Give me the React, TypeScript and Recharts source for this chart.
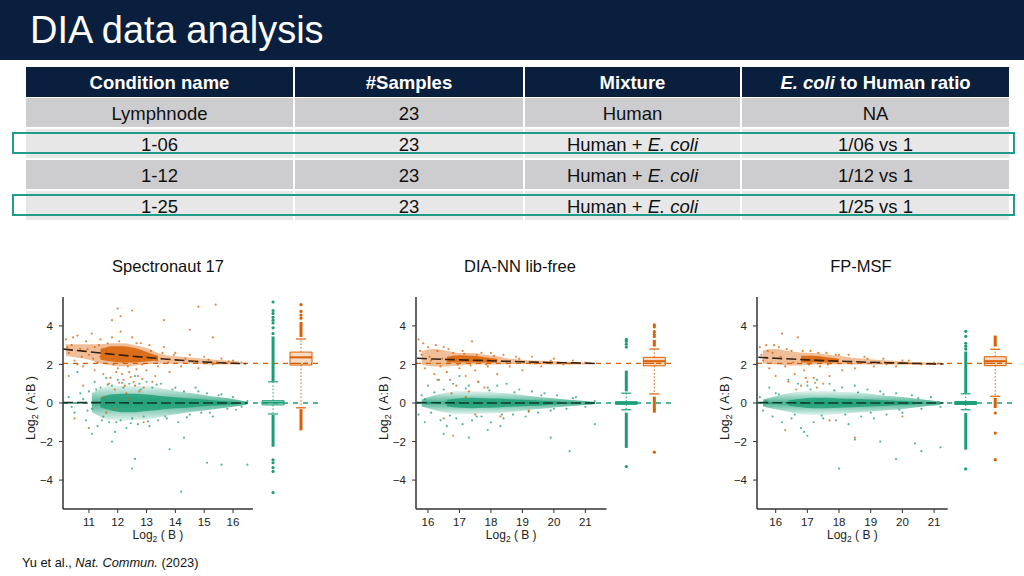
import React from "react";
import {
  ComposedChart,
  Scatter,
  Area,
  Line,
  XAxis,
  YAxis,
  ReferenceLine,
  ReferenceArea,
} from "recharts";

const FONT = "'Liberation Sans', Arial, Helvetica, sans-serif";
const NAVY = "#0a1f3d";
const ORANGE = "#d95f02";
const GREEN = "#1b9e77";
const TEAL = "#1f9c8a";
const AXIS = "#333333";

/* ---------------- table data ---------------- */
const TABLE_HEADERS = ["Condition name", "#Samples", "Mixture", "E. coli to Human ratio"];
const CONDITION_NAMES = ["Lymphnode", "1-06", "1-12", "1-25"];
const SAMPLE_COUNTS = ["23", "23", "23", "23"];
const MIXTURES = ["Human", "Human + E. coli", "Human + E. coli", "Human + E. coli"];
const RATIOS = ["NA", "1/06 vs 1", "1/12 vs 1", "1/25 vs 1"];
const HIGHLIGHTED_ROWS = [1, 3];

/* ---------------- chart data ---------------- */
type Pt = [number, number];
type Band = [number, number, number, number | null, number | null][];
type Box = { q1: number; med: number; q3: number; lo: number; hi: number };

const EXPECTED_RATIO = 2.06;
const Y_TICKS = [-4, -2, 0, 2, 4];

// ---- Spectronaut 17
const S17_X_TICKS = [11, 12, 13, 14, 15, 16];
const S17_ORANGE_PTS: Pt[] = [
  [10.2, 3.3], [10.3, 2.6], [10.4, 3.0], [10.5, 2.2], [10.6, 3.5], [10.7, 2.8], [10.8, 1.9], [10.9, 3.2],
  [11.0, 2.5], [11.1, 3.6], [11.2, 2.9], [11.3, 2.1], [11.4, 3.3], [11.5, 1.5], [11.6, 2.7], [11.7, 1.0],
  [11.8, 3.4], [11.9, 0.7], [12.0, 1.8], [12.1, 3.7], [12.2, 1.2], [12.3, 0.5], [12.4, 1.6], [12.5, 3.4],
  [12.6, 0.9], [12.7, 1.4], [12.8, 3.1], [12.9, 0.8], [13.0, 1.7], [13.1, 3.0], [13.2, 1.1], [13.4, 1.9],
  [13.6, 2.9], [13.8, 1.6], [14.0, 2.6], [14.2, 1.9], [14.5, 2.5], [14.8, 1.8], [15.0, 2.4], [15.3, 2.0],
  [15.6, 2.3], [16.0, 2.2], [16.3, 2.1], [11.8, 4.3], [12.0, 4.9], [12.1, 4.5], [12.5, 4.8], [13.6, 4.3],
  [14.8, 5.0], [15.4, 5.1], [14.5, 3.8], [15.3, 3.4], [11.0, -1.3], [11.6, -0.5], [12.9, -1.0], [10.5, -0.8],
  [12.4, 0.2], [11.9, -0.3], [10.3, 1.4], [10.8, 0.9], [11.2, 1.7], [11.5, 0.3], [12.2, 2.1], [11.4, 2.4],
  [10.6, 2.0], [10.25, 2.9], [10.45, 3.4], [10.75, 2.4], [10.95, 2.8], [11.15, 2.3], [11.35, 3.0],
  [11.65, 3.1], [11.85, 2.0], [12.05, 3.2], [12.35, 1.9], [12.65, 3.1], [12.85, 2.0], [13.15, 2.7],
  [13.35, 2.2], [13.55, 2.6], [13.75, 2.1], [13.95, 2.5], [14.35, 2.3], [14.65, 2.15], [15.15, 2.25],
  [15.45, 2.1], [15.85, 2.15], [12.15, 1.5], [12.55, 1.1], [12.75, 0.6], [11.75, 1.3], [13.3, 1.4],
  [12.45, 1.35], [12.25, 0.9], [12.05, 1.05], [12.65, 1.75], [11.95, 1.6], [12.85, 1.25],
];
const S17_GREEN_PTS: Pt[] = [
  [10.3, 0.3], [10.5, -0.5], [10.6, 1.6], [10.8, 0.2], [10.9, -0.9], [11.0, 0.6], [11.1, -0.3], [11.2, 1.1],
  [11.3, -1.2], [11.4, 0.8], [11.5, -0.7], [11.6, 1.3], [11.7, -1.0], [11.8, 0.9], [11.9, -1.5], [12.0, 1.2],
  [12.1, -0.9], [12.2, 0.8], [12.3, -1.3], [12.4, 1.0], [12.5, -0.8], [12.6, 1.4], [12.7, -1.1], [12.8, 0.7],
  [12.9, -0.7], [13.0, 1.1], [13.1, -1.2], [13.2, 0.8], [13.4, -0.9], [13.5, 1.0], [13.7, -0.8], [13.9, 0.7],
  [14.1, -1.0], [14.3, 0.6], [14.5, -0.6], [14.7, 0.8], [14.9, -0.5], [15.1, 0.5], [15.3, -0.7], [15.5, 0.4],
  [15.8, -0.3], [16.0, 0.3], [16.3, -0.2], [16.5, 0.1], [11.8, -2.0], [12.6, -2.9], [12.5, -3.4], [14.2, -4.6],
  [15.1, -3.1], [15.6, -3.2], [16.5, -3.2], [13.8, -2.4], [14.3, -1.8], [11.1, -1.6],
  [11.25, 0.7], [11.45, -0.9], [11.65, 0.95], [11.95, -1.0], [12.15, 1.05], [12.45, -1.05], [12.75, 1.0],
  [13.05, -0.95], [13.35, 0.95], [13.65, -0.7], [14.0, 0.8], [14.4, -0.75], [14.8, 0.6], [15.2, -0.5],
  [15.6, 0.45], [16.1, -0.35], [10.4, -0.2], [10.7, 0.5], [10.95, -0.4],
];
const S17_GREEN_BAND: Band = [
  [11.1, -0.45, 0.5, null, null], [11.4, -0.72, 0.75, -0.22, 0.28], [11.8, -0.88, 0.9, -0.4, 0.45],
  [12.2, -0.92, 0.9, -0.48, 0.48], [12.6, -0.9, 0.9, -0.48, 0.48], [13.0, -0.85, 0.88, -0.42, 0.44],
  [13.4, -0.75, 0.8, -0.36, 0.38], [13.8, -0.64, 0.68, -0.3, 0.32], [14.2, -0.55, 0.58, -0.26, 0.27],
  [14.6, -0.46, 0.5, -0.22, 0.23], [15.0, -0.39, 0.42, -0.17, 0.18], [15.4, -0.31, 0.33, -0.13, 0.13],
  [15.8, -0.23, 0.26, -0.09, 0.09], [16.2, -0.15, 0.16, -0.05, 0.05], [16.5, -0.06, 0.06, null, null],
];
const S17_ORANGE_BAND: Band = [
  [10.2, 2.45, 3.05, null, null], [10.6, 2.35, 3.05, null, null], [11.0, 2.25, 3.05, null, null],
  [11.4, 2.05, 3.05, 2.25, 2.8], [11.8, 1.95, 3.1, 2.15, 2.95], [12.2, 1.9, 3.1, 2.1, 2.95],
  [12.6, 1.95, 3.0, 2.1, 2.85], [13.0, 2.0, 2.85, 2.15, 2.65], [13.4, 2.05, 2.6, 2.2, 2.45],
  [13.8, 2.05, 2.45, null, null], [14.2, 2.05, 2.4, null, null], [14.6, 2.05, 2.35, null, null],
  [15.0, 2.0, 2.3, null, null], [15.4, 2.0, 2.25, null, null], [15.8, 2.0, 2.2, null, null],
  [16.2, 2.0, 2.15, null, null],
];
const S17_ORANGE_TREND: Pt[] = [
  [10.1, 2.8], [10.6, 2.72], [11.0, 2.66], [11.5, 2.58], [12.0, 2.5], [12.5, 2.43], [13.0, 2.36],
  [13.5, 2.3], [14.0, 2.24], [14.5, 2.18], [15.0, 2.13], [15.5, 2.09], [16.0, 2.06], [16.45, 2.04],
];
const S17_GREEN_TREND: Pt[] = [[10.1, 0.02], [11.0, 0.02], [12.0, 0.01], [13.0, 0], [14.0, 0], [15.0, 0], [16.0, 0], [16.5, 0]];
const S17_GREEN_BOX: Box = { q1: -0.1, med: 0.02, q3: 0.12, lo: -0.57, hi: 1.1 };
const S17_ORANGE_BOX: Box = { q1: 1.97, med: 2.37, q3: 2.64, lo: -0.25, hi: 3.32 };
const S17_GREEN_RUNS: Pt[] = [[1.14, 3.45], [-0.62, -2.27]];
const S17_GREEN_DOTS = [3.6, 3.9, 4.15, 4.3, 4.45, 4.65, 4.8, 5.24, -2.95, -3.1, -3.35, -3.55, -4.65];
const S17_ORANGE_RUNS: Pt[] = [[3.42, 4.2], [-0.32, -1.42]];
const S17_ORANGE_DOTS = [4.4, 4.56, 4.75, 5.1];

// ---- DIA-NN lib-free
const DN_X_TICKS = [16, 17, 18, 19, 20, 21];
const DN_ORANGE_PTS: Pt[] = [
  [15.7, 3.3], [15.8, 2.5], [15.9, 1.8], [16.0, 2.9], [16.1, 2.2], [16.2, 1.5], [16.3, 2.7], [16.4, 1.9],
  [16.5, 2.9], [16.6, 1.6], [16.7, 1.2], [16.8, 2.6], [16.9, 0.9], [17.0, 1.8], [17.1, 2.7], [17.2, 1.4],
  [17.3, 0.6], [17.4, 3.2], [17.5, 1.7], [17.6, 1.1], [17.7, 2.6], [17.8, 0.8], [17.9, 1.9], [18.0, 2.6],
  [18.2, 1.5], [18.4, 2.5], [18.6, 1.9], [18.8, 2.4], [19.0, 1.7], [19.3, 2.4], [19.6, 1.9], [20.0, 2.3],
  [20.3, 2.0], [20.6, 2.2], [21.0, 2.1], [16.5, -0.8], [17.5, -0.6], [18.3, -0.7], [19.2, -0.4],
  [16.8, -1.7], [17.2, 0.3], [15.75, 2.7], [15.85, 3.1], [16.05, 2.4], [16.25, 3.0], [16.45, 2.3],
  [16.65, 2.8], [16.95, 2.0], [17.15, 2.55], [17.35, 1.95], [17.55, 2.5], [17.85, 2.0], [18.1, 2.45],
  [18.5, 2.05], [18.9, 2.3], [19.4, 2.05], [19.9, 2.2], [20.5, 2.05], [16.35, 1.2], [16.75, 0.5],
];
const DN_GREEN_PTS: Pt[] = [
  [15.7, -0.6], [15.8, 0.4], [15.9, -1.0], [16.0, 0.9], [16.1, -0.5], [16.3, 1.2], [16.4, -0.9], [16.5, 0.7],
  [16.6, -1.2], [16.8, 1.0], [16.9, -0.8], [17.0, 1.4], [17.1, -1.1], [17.3, 0.9], [17.4, -0.9], [17.6, 1.1],
  [17.7, -0.7], [17.9, 0.8], [18.0, -1.0], [18.2, 0.9], [18.4, -0.8], [18.5, 1.0], [18.7, -0.6], [18.9, 0.7],
  [19.1, -0.7], [19.3, 0.6], [19.5, -0.5], [19.7, 0.5], [19.9, -0.4], [20.1, 0.4], [20.4, -0.3], [20.7, 0.3],
  [21.0, -0.2], [21.3, 0.1], [16.5, -1.6], [17.9, -1.4], [18.3, -1.2], [19.9, -1.8], [20.5, -2.5],
  [21.3, -1.1], [17.3, -1.8], [16.2, 0.55], [16.7, -0.65], [17.2, 0.75], [17.55, -0.7], [17.95, 0.65],
  [18.35, -0.6], [18.75, 0.55], [19.2, -0.45], [19.6, 0.4], [20.0, -0.3], [20.6, 0.25], [15.9, 0.2],
];
const DN_GREEN_BAND: Band = [
  [15.8, -0.18, 0.18, null, null], [16.2, -0.36, 0.4, null, null], [16.6, -0.5, 0.55, -0.17, 0.17],
  [17.0, -0.58, 0.62, -0.25, 0.25], [17.4, -0.58, 0.62, -0.27, 0.27], [17.8, -0.55, 0.58, -0.25, 0.25],
  [18.2, -0.52, 0.54, -0.23, 0.23], [18.6, -0.47, 0.49, -0.2, 0.2], [19.0, -0.4, 0.42, -0.17, 0.17],
  [19.4, -0.33, 0.34, -0.14, 0.14], [19.8, -0.27, 0.27, -0.1, 0.1], [20.2, -0.21, 0.21, -0.07, 0.07],
  [20.6, -0.16, 0.16, null, null], [21.0, -0.11, 0.11, null, null], [21.3, -0.06, 0.06, null, null],
];
const DN_ORANGE_BAND: Band = [
  [15.8, 2.0, 2.7, null, null], [16.2, 1.9, 2.8, null, null], [16.6, 1.9, 2.7, 2.1, 2.4],
  [17.0, 1.95, 2.6, 2.1, 2.48], [17.4, 2.0, 2.6, 2.1, 2.45], [17.8, 2.0, 2.5, 2.1, 2.38],
  [18.2, 2.0, 2.42, 2.1, 2.3], [18.6, 2.02, 2.3, null, null], [19.0, 2.02, 2.25, null, null],
  [19.4, 2.0, 2.2, null, null], [19.8, 2.0, 2.18, null, null], [20.2, 2.0, 2.15, null, null],
  [20.6, 2.0, 2.12, null, null], [21.0, 2.0, 2.1, null, null],
];
const DN_ORANGE_TREND: Pt[] = [
  [15.65, 2.32], [16.2, 2.28], [16.6, 2.26], [17.0, 2.24], [17.4, 2.22], [17.8, 2.2], [18.2, 2.18],
  [18.6, 2.16], [19.0, 2.14], [19.4, 2.12], [19.8, 2.1], [20.2, 2.09], [20.6, 2.08], [21.0, 2.07], [21.35, 2.05],
];
const DN_GREEN_TREND: Pt[] = [[15.65, 0.02], [16.5, 0.01], [17.5, 0], [18.5, 0], [19.5, 0], [20.5, 0], [21.35, 0]];
const DN_GREEN_BOX: Box = { q1: -0.07, med: 0, q3: 0.07, lo: -0.35, hi: 0.51 };
const DN_ORANGE_BOX: Box = { q1: 1.93, med: 2.17, q3: 2.37, lo: 0.47, hi: 2.8 };
const DN_GREEN_RUNS: Pt[] = [[0.6, 1.68], [-0.5, -2.33]];
const DN_GREEN_DOTS = [2.9, 3.05, 3.2, 3.3, -3.3];
const DN_ORANGE_RUNS: Pt[] = [[2.93, 3.27], [0.33, -0.5]];
const DN_ORANGE_DOTS = [3.45, 3.55, 3.7, 3.95, 4.05, -2.55];

// ---- FP-MSF
const FP_X_TICKS = [16, 17, 18, 19, 20, 21];
const FP_ORANGE_PTS: Pt[] = [
  [15.5, 2.9], [15.6, 2.2], [15.7, 3.0], [15.8, 1.8], [15.9, 2.6], [16.0, 1.4], [16.1, 2.9], [16.2, 3.6],
  [16.3, 1.9], [16.4, 1.1], [16.5, 2.7], [16.6, 1.5], [16.7, 3.4], [16.8, 0.9], [16.9, 1.7], [17.0, 1.1],
  [17.1, 2.7], [17.2, 1.3], [17.3, 0.8], [17.4, 1.9], [17.5, 1.0], [17.6, 2.6], [17.7, 1.4], [17.9, 2.5],
  [18.1, 1.7], [18.3, 2.5], [18.5, 1.8], [18.8, 2.4], [19.1, 1.9], [19.4, 2.3], [19.8, 1.9], [20.2, 2.2],
  [20.6, 2.0], [21.0, 2.1], [16.3, -1.4], [17.7, -0.9], [18.5, -1.8], [20.0, -0.7], [15.55, 2.5],
  [15.75, 2.7], [15.95, 3.0], [16.15, 2.4], [16.35, 2.8], [16.55, 2.1], [16.85, 2.7], [17.05, 2.0],
  [17.35, 2.6], [17.65, 2.0], [18.0, 2.5], [18.4, 2.05], [18.9, 2.3], [19.5, 2.0], [20.0, 2.2],
  [16.65, 0.7], [17.25, 1.05], [16.95, 1.3],
];
const FP_GREEN_PTS: Pt[] = [
  [15.5, 0.3], [15.6, -0.4], [15.8, 0.8], [15.9, -0.7], [16.0, 0.5], [16.2, -1.0], [16.4, 1.2], [16.5, -0.8],
  [16.7, 1.0], [16.8, -1.3], [17.0, 0.9], [17.2, -1.0], [17.3, 1.2], [17.5, -0.8], [17.7, 1.0], [17.9, -0.9],
  [18.1, 0.8], [18.3, -1.1], [18.5, 0.9], [18.7, -0.7], [18.9, 0.7], [19.1, -0.8], [19.3, 0.6], [19.5, -0.6],
  [19.8, 0.5], [20.0, -0.5], [20.3, 0.4], [20.6, -0.3], [20.9, 0.3], [21.2, -0.2], [16.9, -1.5], [17.0, -1.7],
  [18.0, -3.4], [18.5, -1.9], [19.3, -2.0], [20.4, -2.1], [20.6, -2.5], [21.2, -2.3], [19.8, -2.9],
  [16.1, 0.45], [16.6, -0.6], [17.1, 0.7], [17.45, -0.65], [17.85, 0.65], [18.2, -0.6], [18.6, 0.55],
  [19.0, -0.5], [19.4, 0.45], [19.9, -0.35], [20.5, 0.25], [15.7, 0.1],
];
const FP_GREEN_BAND: Band = [
  [15.6, -0.18, 0.18, null, null], [16.0, -0.33, 0.35, null, null], [16.4, -0.45, 0.5, -0.13, 0.13],
  [16.8, -0.58, 0.6, -0.22, 0.22], [17.2, -0.62, 0.62, -0.27, 0.27], [17.6, -0.62, 0.62, -0.27, 0.27],
  [18.0, -0.57, 0.58, -0.24, 0.24], [18.4, -0.52, 0.56, -0.22, 0.22], [18.8, -0.47, 0.52, -0.2, 0.2],
  [19.2, -0.42, 0.43, -0.17, 0.17], [19.6, -0.36, 0.36, -0.13, 0.13], [20.0, -0.31, 0.31, -0.1, 0.1],
  [20.4, -0.23, 0.23, -0.06, 0.06], [20.8, -0.16, 0.16, null, null], [21.2, -0.09, 0.09, null, null],
];
const FP_ORANGE_BAND: Band = [
  [15.6, 2.05, 2.75, null, null], [16.0, 2.0, 2.8, null, null], [16.4, 1.95, 2.7, null, null],
  [16.8, 1.95, 2.62, 2.1, 2.45], [17.2, 2.0, 2.6, 2.1, 2.45], [17.6, 2.0, 2.52, 2.1, 2.38],
  [18.0, 2.0, 2.45, 2.1, 2.3], [18.4, 2.0, 2.35, null, null], [18.8, 2.0, 2.3, null, null],
  [19.2, 2.0, 2.25, null, null], [19.6, 2.0, 2.2, null, null], [20.0, 1.98, 2.15, null, null],
  [20.4, 1.98, 2.12, null, null], [20.8, 1.97, 2.1, null, null], [21.2, 1.97, 2.05, null, null],
];
const FP_ORANGE_TREND: Pt[] = [
  [15.45, 2.37], [16.0, 2.32], [16.5, 2.28], [17.0, 2.24], [17.5, 2.2], [18.0, 2.17], [18.5, 2.14],
  [19.0, 2.11], [19.5, 2.09], [20.0, 2.07], [20.5, 2.05], [21.0, 2.03], [21.3, 2.02],
];
const FP_GREEN_TREND: Pt[] = [[15.45, 0.02], [16.5, 0.01], [17.5, 0], [18.5, 0], [19.5, 0], [20.5, 0], [21.3, 0]];
const FP_GREEN_BOX: Box = { q1: -0.08, med: 0, q3: 0.08, lo: -0.35, hi: 0.48 };
const FP_ORANGE_BOX: Box = { q1: 1.94, med: 2.17, q3: 2.4, lo: 0.35, hi: 2.79 };
const FP_GREEN_RUNS: Pt[] = [[0.52, 2.67], [-0.52, -2.42]];
const FP_GREEN_DOTS = [2.8, 2.95, 3.1, 3.46, 3.72, -3.42];
const FP_ORANGE_RUNS: Pt[] = [[2.93, 3.5], [0.26, -0.26]];
const FP_ORANGE_DOTS = [-0.52, -1.56, -2.94];

/* ---------------- panel layout ---------------- */
type PanelCfg = {
  id: string;
  title: string;
  left: number;
  titleX: number;
  xmin: number;
  xmax: number;
  axisEnd: number;
  ticks: number[];
  greenX: number;
  orangeX: number;
  pxPerUnit: number;
  orangePts: Pt[];
  greenPts: Pt[];
  greenBand: Band;
  orangeBand: Band;
  orangeTrend: Pt[];
  greenTrend: Pt[];
  greenBox: Box;
  orangeBox: Box;
  greenRuns: Pt[];
  greenDots: number[];
  orangeRuns: Pt[];
  orangeDots: number[];
};

const PANELS: PanelCfg[] = [
  {
    id: "s17", title: "Spectronaut 17", left: 0, titleX: 168, xmin: 10.1, xmax: 18.95, axisEnd: 16.69, ticks: S17_X_TICKS,
    greenX: 17.39, orangeX: 18.36, pxPerUnit: 28.8,
    orangePts: S17_ORANGE_PTS, greenPts: S17_GREEN_PTS, greenBand: S17_GREEN_BAND, orangeBand: S17_ORANGE_BAND,
    orangeTrend: S17_ORANGE_TREND, greenTrend: S17_GREEN_TREND, greenBox: S17_GREEN_BOX, orangeBox: S17_ORANGE_BOX,
    greenRuns: S17_GREEN_RUNS, greenDots: S17_GREEN_DOTS, orangeRuns: S17_ORANGE_RUNS, orangeDots: S17_ORANGE_DOTS,
  },
  {
    id: "dn", title: "DIA-NN lib-free", left: 353, titleX: 520, xmin: 15.62, xmax: 23.72, axisEnd: 21.67, ticks: DN_X_TICKS,
    greenX: 22.3, orangeX: 23.19, pxPerUnit: 31.5,
    orangePts: DN_ORANGE_PTS, greenPts: DN_GREEN_PTS, greenBand: DN_GREEN_BAND, orangeBand: DN_ORANGE_BAND,
    orangeTrend: DN_ORANGE_TREND, greenTrend: DN_GREEN_TREND, greenBox: DN_GREEN_BOX, orangeBox: DN_ORANGE_BOX,
    greenRuns: DN_GREEN_RUNS, greenDots: DN_GREEN_DOTS, orangeRuns: DN_ORANGE_RUNS, orangeDots: DN_ORANGE_DOTS,
  },
  {
    id: "fp", title: "FP-MSF", left: 694, titleX: 861, xmin: 15.41, xmax: 23.46, axisEnd: 21.43, ticks: FP_X_TICKS,
    greenX: 22.0, orangeX: 22.93, pxPerUnit: 31.7,
    orangePts: FP_ORANGE_PTS, greenPts: FP_GREEN_PTS, greenBand: FP_GREEN_BAND, orangeBand: FP_ORANGE_BAND,
    orangeTrend: FP_ORANGE_TREND, greenTrend: FP_GREEN_TREND, greenBox: FP_GREEN_BOX, orangeBox: FP_ORANGE_BOX,
    greenRuns: FP_GREEN_RUNS, greenDots: FP_GREEN_DOTS, orangeRuns: FP_ORANGE_RUNS, orangeDots: FP_ORANGE_DOTS,
  },
];

function buildRows(c: PanelCfg) {
  const m = new Map<number, Record<string, any>>();
  const row = (x: number) => {
    let r = m.get(x);
    if (!r) {
      r = { x };
      m.set(x, r);
    }
    return r;
  };
  c.greenBand.forEach(([x, lo, hi, cl, ch]) => {
    const r = row(x);
    r.gOut = [lo, hi];
    if (cl != null && ch != null) r.gCore = [cl, ch];
  });
  c.orangeBand.forEach(([x, lo, hi, cl, ch]) => {
    const r = row(x);
    r.oOut = [lo, hi];
    if (cl != null && ch != null) r.oCore = [cl, ch];
  });
  c.greenTrend.forEach(([x, y]) => {
    row(x).gTrend = y;
  });
  c.orangeTrend.forEach(([x, y]) => {
    row(x).oTrend = y;
  });
  return Array.from(m.values()).sort((a, b) => a.x - b.x);
}

const dotShape = (color: string, r: number, op: number) => (p: any) =>
  p.cx == null ? <g /> : <circle cx={p.cx} cy={p.cy} r={r} fill={color} fillOpacity={op} />;

function renderBox(key: string, x: number, b: Box, runs: Pt[], dots: number[], color: string, fill: string, half: number, cap: number) {
  const els: React.ReactNode[] = [];
  els.push(
    <ReferenceLine key={key + "wu"} segment={[{ x, y: b.q3 }, { x, y: b.hi }]} stroke={color} strokeDasharray="1.5 2" strokeWidth={1} ifOverflow="visible" />,
    <ReferenceLine key={key + "wl"} segment={[{ x, y: b.q1 }, { x, y: b.lo }]} stroke={color} strokeDasharray="1.5 2" strokeWidth={1} ifOverflow="visible" />,
    <ReferenceLine key={key + "cu"} segment={[{ x: x - cap, y: b.hi }, { x: x + cap, y: b.hi }]} stroke={color} strokeWidth={1.2} ifOverflow="visible" />,
    <ReferenceLine key={key + "cl"} segment={[{ x: x - cap, y: b.lo }, { x: x + cap, y: b.lo }]} stroke={color} strokeWidth={1.2} ifOverflow="visible" />,
    <ReferenceArea key={key + "box"} x1={x - half} x2={x + half} y1={b.q1} y2={b.q3} fill={fill} fillOpacity={1} stroke={color} strokeWidth={1} ifOverflow="visible" />,
    <ReferenceLine key={key + "med"} segment={[{ x: x - half, y: b.med }, { x: x + half, y: b.med }]} stroke={color} strokeWidth={2} ifOverflow="visible" />
  );
  runs.forEach(([a, z], i) => {
    els.push(
      <ReferenceLine key={key + "run" + i} segment={[{ x, y: a }, { x, y: z }]} stroke={color} strokeWidth={3} ifOverflow="visible" />
    );
  });
  els.push(
    <Scatter
      key={key + "dots"}
      data={dots.map((y) => ({ x, y }))}
      dataKey="y"
      shape={dotShape(color, 1.6, 1)}
      isAnimationActive={false}
    />
  );
  return els;
}

function Panel({ c }: { c: PanelCfg }) {
  const rows = buildRows(c);
  const W = 320;
  const H = 280;
  const half = 11 / c.pxPerUnit;
  const cap = 5 / c.pxPerUnit;
  const axisFrac = (c.axisEnd - c.xmin) / (c.xmax - c.xmin);
  const gradId = `greenFade-${c.id}`;

  const xLabel = (p: any) => {
    const vb = p.viewBox || {};
    const cx = vb.x + (vb.width * axisFrac) / 2;
    const y = vb.y + 30;
    return (
      <text x={cx} y={y} textAnchor="middle" fontSize={12} fill="#222" fontFamily={FONT}>
        <tspan>Log</tspan>
        <tspan fontSize={8.5} dy={3}>2</tspan>
        <tspan dy={-3}> ( B )</tspan>
      </text>
    );
  };
  const yLabel = (p: any) => {
    const vb = p.viewBox || {};
    const cx = vb.x + 17;
    const cy = vb.y + vb.height / 2 + 5;
    return (
      <text x={cx} y={cy} textAnchor="middle" fontSize={12.5} fill="#222" fontFamily={FONT} transform={`rotate(-90, ${cx}, ${cy})`}>
        <tspan>Log</tspan>
        <tspan fontSize={9} dy={3}>2</tspan>
        <tspan dy={-3}> ( A:B )</tspan>
      </text>
    );
  };

  return (
    <>
      <div
        style={{
          position: "absolute",
          left: c.titleX - 120,
          width: 240,
          top: 256,
          height: 20,
          lineHeight: "20px",
          textAlign: "center",
          fontFamily: FONT,
          fontSize: 16.5,
          color: "#111",
        }}
      >
        {c.title}
      </div>
      <div style={{ position: "absolute", left: c.left, top: 280, width: W, height: H }}>
        <ComposedChart width={W} height={H} data={rows} margin={{ top: 17, right: 2, bottom: 11, left: 18 }}>
          <defs>
            <linearGradient id={gradId} x1="0" y1="0" x2="0" y2="1">
              <stop offset="0%" stopColor={GREEN} stopOpacity={0.12} />
              <stop offset="25%" stopColor={GREEN} stopOpacity={0.45} />
              <stop offset="50%" stopColor={GREEN} stopOpacity={0.8} />
              <stop offset="75%" stopColor={GREEN} stopOpacity={0.45} />
              <stop offset="100%" stopColor={GREEN} stopOpacity={0.12} />
            </linearGradient>
          </defs>
          <XAxis
            type="number"
            dataKey="x"
            domain={[c.xmin, c.xmax]}
            allowDataOverflow
            ticks={c.ticks}
            interval={0}
            axisLine={false}
            tickLine={{ stroke: AXIS }}
            tickSize={4}
            tickMargin={5}
            height={40}
            tick={{ fontSize: 11.5, fill: "#222", fontFamily: FONT }}
            label={xLabel}
          />
          <YAxis
            type="number"
            domain={[-5.5, 5.5]}
            allowDataOverflow
            ticks={Y_TICKS}
            interval={0}
            width={45}
            axisLine={{ stroke: AXIS, strokeWidth: 1.5 }}
            tickLine={{ stroke: AXIS }}
            tickSize={4}
            tickMargin={6}
            tickFormatter={(v: number) => (v < 0 ? `\u2212${Math.abs(v)}` : `${v}`)}
            tick={{ fontSize: 11.5, fill: "#222", fontFamily: FONT }}
            label={yLabel}
          />
          <ReferenceLine
            segment={[{ x: c.xmin, y: -5.5 }, { x: c.axisEnd, y: -5.5 }]}
            stroke={AXIS}
            strokeWidth={1.5}
            ifOverflow="visible"
          />
          <ReferenceLine y={0} stroke={GREEN} strokeDasharray="5 5" strokeWidth={1.3} ifOverflow="visible" />
          <ReferenceLine y={EXPECTED_RATIO} stroke={ORANGE} strokeDasharray="5 5" strokeWidth={1.3} ifOverflow="visible" />

          <Area dataKey="gOut" type="monotone" stroke="none" fill={`url(#${gradId})`} fillOpacity={1} connectNulls dot={false} activeDot={false} isAnimationActive={false} />
          <Area dataKey="gCore" type="monotone" stroke="none" fill={GREEN} fillOpacity={0.8} connectNulls dot={false} activeDot={false} isAnimationActive={false} />
          <Scatter data={c.greenPts.map(([x, y]) => ({ x, y }))} dataKey="y" shape={dotShape(GREEN, 1.1, 0.75)} isAnimationActive={false} />
          <Area dataKey="oOut" type="monotone" stroke="none" fill={ORANGE} fillOpacity={0.4} connectNulls dot={false} activeDot={false} isAnimationActive={false} />
          <Area dataKey="oCore" type="monotone" stroke="none" fill={ORANGE} fillOpacity={0.85} connectNulls dot={false} activeDot={false} isAnimationActive={false} />
          <Scatter data={c.orangePts.map(([x, y]) => ({ x, y }))} dataKey="y" shape={dotShape(ORANGE, 1.1, 0.75)} isAnimationActive={false} />
          <Line dataKey="gTrend" type="monotone" stroke="#12392c" strokeWidth={1.6} strokeDasharray="10 4" dot={false} activeDot={false} connectNulls isAnimationActive={false} />
          <Line dataKey="oTrend" type="monotone" stroke="#3a2210" strokeWidth={1.6} strokeDasharray="10 4" dot={false} activeDot={false} connectNulls isAnimationActive={false} />

          {renderBox("g", c.greenX, c.greenBox, c.greenRuns, c.greenDots, GREEN, "#d6efe6", half, cap)}
          {renderBox("o", c.orangeX, c.orangeBox, c.orangeRuns, c.orangeDots, ORANGE, "#f6dcc5", half, cap)}
          <ReferenceLine
            segment={[{ x: c.orangeX - half, y: EXPECTED_RATIO }, { x: c.orangeX + half, y: EXPECTED_RATIO }]}
            stroke={ORANGE}
            strokeDasharray="4 3"
            strokeWidth={1.3}
            ifOverflow="visible"
          />
        </ComposedChart>
      </div>
    </>
  );
}

/* ---------------- slide ---------------- */
const COL_X = [26, 295, 525, 742];
const COL_W = [267, 228, 215, 267];
const ROW_TOP = [98, 129, 160, 191];
const ROW_H = 29;

function withItalic(s: string) {
  const parts = s.split("E. coli");
  const out: React.ReactNode[] = [];
  parts.forEach((p, i) => {
    if (i > 0) out.push(<i key={"i" + i}>E. coli</i>);
    if (p) out.push(<React.Fragment key={"s" + i}>{p}</React.Fragment>);
  });
  return <span style={{ whiteSpace: "pre" }}>{out}</span>;
}

export default function App() {
  const columns = [CONDITION_NAMES, SAMPLE_COUNTS, MIXTURES, RATIOS];
  const cell = (left: number, top: number, w: number, h: number, bg: string, content: React.ReactNode, color: string, bold: boolean, key: string) => (
    <div
      key={key}
      style={{
        position: "absolute",
        left,
        top,
        width: w,
        height: h,
        background: bg,
        color,
        fontWeight: bold ? 700 : 400,
        fontFamily: FONT,
        fontSize: 18.5,
        display: "flex",
        alignItems: "center",
        justifyContent: "center",
        whiteSpace: "nowrap",
        paddingTop: 2,
        boxSizing: "border-box",
      }}
    >
      {content}
    </div>
  );

  return (
    <div style={{ position: "absolute", left: 0, top: 0, width: 1024, height: 576, background: "#ffffff", overflow: "hidden" }}>
      <div style={{ position: "absolute", left: 0, top: 0, width: 1024, height: 60, background: NAVY }} />
      <div
        style={{
          position: "absolute",
          left: 30,
          top: 11,
          height: 38,
          lineHeight: "38px",
          fontFamily: FONT,
          fontSize: 38,
          color: "#ffffff",
          whiteSpace: "nowrap",
        }}
      >
        DIA data analysis
      </div>

      {TABLE_HEADERS.map((h, ci) => cell(COL_X[ci], 67, COL_W[ci], 30, NAVY, withItalic(h), "#ffffff", true, "h" + ci))}
      {ROW_TOP.map((top, ri) =>
        columns.map((col, ci) =>
          cell(COL_X[ci], top, COL_W[ci], ROW_H, ri % 2 === 0 ? "#cdcdcf" : "#e7e7e8", withItalic(col[ri]), "#111111", false, `r${ri}c${ci}`)
        )
      )}
      {HIGHLIGHTED_ROWS.map((ri) => (
        <div
          key={"hl" + ri}
          style={{
            position: "absolute",
            left: 12,
            top: ROW_TOP[ri] + 3,
            width: 1003,
            height: 22,
            border: `2px solid ${TEAL}`,
            boxSizing: "border-box",
          }}
        />
      ))}

      {PANELS.map((c) => (
        <Panel key={c.id} c={c} />
      ))}

      <div
        style={{
          position: "absolute",
          left: 22,
          top: 555,
          height: 15,
          lineHeight: "15px",
          fontFamily: FONT,
          fontSize: 12.8,
          color: "#111",
          whiteSpace: "nowrap",
        }}
      >
        Yu et al., <i>Nat. Commun.</i> (2023)
      </div>
    </div>
  );
}
